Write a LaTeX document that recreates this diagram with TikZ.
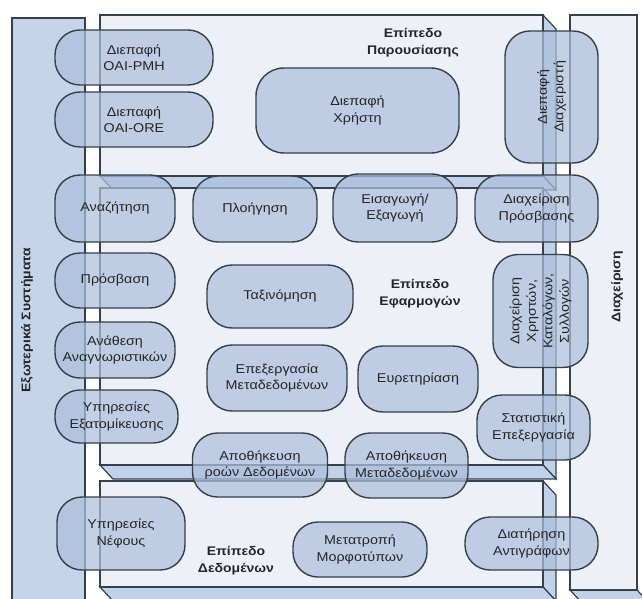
\documentclass[tikz,border=0pt]{standalone}
\usepackage{fontspec}
\setmainfont[FakeStretch=1.12]{Liberation Sans}
\definecolor{facec}{HTML}{EDF1F7}
\definecolor{sidec}{HTML}{C1D1E7}
\definecolor{leftc}{HTML}{C5D5E9}
\definecolor{nodec}{HTML}{ACC0DC}
\definecolor{edgec}{HTML}{36404C}
\definecolor{txtc}{HTML}{262626}
\tikzset{
  slabline/.style={draw=edgec, line width=1.2pt},
  box/.style={draw=edgec, line width=1.4pt, fill=nodec, fill opacity=0.72, text opacity=1,
    rounded corners=25pt, align=center, inner sep=2pt, text=txtc,
    font=\fontsize{12.8}{16.5}\selectfont},
  layerlabel/.style={align=center, text=txtc, font=\bfseries\fontsize{12.5}{17}\selectfont}
}
\newcommand\myslab[4]{%
  \filldraw[slabline, fill=sidec] (#3,#2) -- ++(13,14) -- (#3+13,#4+14) -- (#3,#4) -- cycle;
  \filldraw[slabline, fill=sidec] (#1,#4) -- (#3,#4) -- ++(13,14) -- (#1+13,#4+14) -- cycle;
  \filldraw[slabline, fill=facec] (#1,#2) rectangle (#3,#4);}
\begin{document}
\begin{tikzpicture}[x=1pt,y=-1pt]
\useasboundingbox[fill=white] (0,0) rectangle (642,599);
% left panel
\filldraw[slabline, fill=leftc] (12,18) rectangle (85,610);
% right panel
\filldraw[slabline, fill=sidec] (570,590) -- (637,590) -- (650,604) -- (583,604) -- cycle;
\filldraw[slabline, fill=facec] (570,15) rectangle (637,590);
% layers
\myslab{100}{15}{543}{176}
\myslab{100}{188}{543}{465}
\myslab{100}{481}{543}{587}
% labels
\node[layerlabel] (lpres) at (413,43) {Επίπεδο\\Παρουσίασης};
\node[layerlabel] (lapp) at (420,294) {Επίπεδο\\Εφαρμογών};
\node[layerlabel] (ldata) at (236,561) {Επίπεδο\\Δεδομένων};
\node[layerlabel, rotate=90] (lext) at (27,320) {Εξωτερικά Συστήματα};
\node[layerlabel, rotate=90] (lman) at (617,287) {Διαχείριση};
% presentation layer
\node[box, minimum width=158pt, minimum height=55pt] (pmh) at (134,57.5) {Διεπαφή\\OAI-PMH};
\node[box, minimum width=158pt, minimum height=55pt] (ore) at (134,119.5) {Διεπαφή\\OAI-ORE};
\node[box, minimum width=203pt, minimum height=85pt, rounded corners=28pt] (user) at (357.5,110.5) {Διεπαφή\\Χρήστη};
\node[box, rotate=90, minimum width=132pt, minimum height=93pt] (admin) at (551.5,97) {Διεπαφή\\Διαχειριστή};
% application layer
\node[box, minimum width=120pt, minimum height=67pt] (search) at (115,208.5) {Αναζήτηση};
\node[box, minimum width=124pt, minimum height=66pt] (nav) at (255,209) {Πλοήγηση};
\node[box, minimum width=124pt, minimum height=68pt] (imex) at (395,208) {Εισαγωγή/\\Εξαγωγή};
\node[box, minimum width=123pt, minimum height=67pt] (acc) at (536.5,208.5) {Διαχείριση\\Πρόσβασης};
\node[box, minimum width=120pt, minimum height=55pt] (access) at (115,280.5) {Πρόσβαση};
\node[box, minimum width=146pt, minimum height=63pt] (class) at (280,296.5) {Ταξινόμηση};
\node[box, minimum width=120pt, minimum height=56pt] (ids) at (115,350) {Ανάθεση\\Αναγνωριστικών};
\node[box, minimum width=140pt, minimum height=66pt] (meta) at (277,378) {Επεξεργασία\\Μεταδεδομένων};
\node[box, minimum width=120pt, minimum height=66pt] (index) at (418,379) {Ευρετηρίαση};
\node[box, rotate=90, minimum width=113pt, minimum height=95pt] (users) at (540.5,311) {Διαχείριση\\Χρηστών,\\Καταλόγων,\\Συλλογών};
\node[box, minimum width=123pt, minimum height=53pt] (pers) at (116.5,416.5) {Υπηρεσίες\\Εξατομίκευσης};
\node[box, minimum width=113pt, minimum height=65pt] (stat) at (533.5,427.5) {Στατιστική\\Επεξεργασία};
\node[box, minimum width=135pt, minimum height=64pt] (flows) at (260,465) {Αποθήκευση\\ροών Δεδομένων};
\node[box, minimum width=123pt, minimum height=65pt] (mstore) at (406.5,465.5) {Αποθήκευση\\Μεταδεδομένων};
% data layer
\node[box, minimum width=128pt, minimum height=73pt] (cloud) at (121,533.5) {Υπηρεσίες\\Νέφους};
\node[box, minimum width=134pt, minimum height=55pt] (conv) at (360,549.5) {Μετατροπή\\Μορφοτύπων};
\node[box, minimum width=133pt, minimum height=53pt] (backup) at (531.5,543.5) {Διατήρηση\\Αντιγράφων};
\end{tikzpicture}
\end{document}
